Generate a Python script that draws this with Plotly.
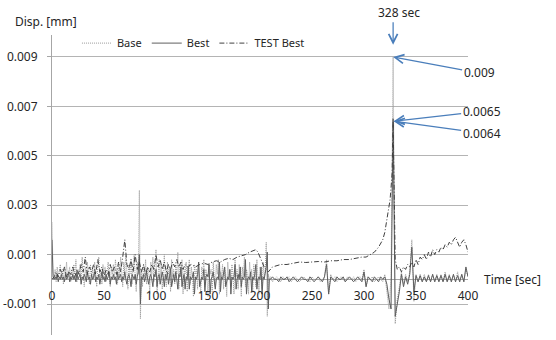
import plotly.graph_objects as go

# ---------------- data (values in mm, time in sec) ----------------
# sampling: 1 s up to 209 s, 2 s afterwards
t_grid = list(range(0, 210)) + list(range(210, 401, 2))

base_disp = [
    0.0023, 0.0003, 0.0001, 0.0004, -0.0001, 0.0005, 0.0001, 0.0003, 0.0006, 0.0000,
    0.0004, -0.0002, 0.0005, 0.0002, 0.0007, 0.0000, 0.0003, 0.0005, -0.0001, 0.0004,
    0.0001, 0.0006, 0.0002, 0.0008, -0.0001, 0.0004, 0.0002, 0.0006, 0.0000, 0.0009,
    0.0002, -0.0003, 0.0005, 0.0001, 0.0007, 0.0003, -0.0002, 0.0006, 0.0001, 0.0004,
    0.0000, 0.0007, 0.0002, -0.0003, 0.0005, 0.0009, 0.0001, 0.0004, -0.0002, 0.0006,
    0.0002, 0.0005, -0.0001, 0.0003, 0.0007, 0.0001, -0.0003, 0.0005, 0.0002, 0.0006,
    0.0000, 0.0008, 0.0003, -0.0002, 0.0006, 0.0001, 0.0009, 0.0002, -0.0003, 0.0007,
    0.0003, 0.0010, 0.0001, -0.0004, 0.0006, 0.0002, 0.0008, -0.0002, 0.0005, 0.0010,
    0.0001, -0.0005, 0.0007, 0.0002, 0.0036, -0.0016, 0.0004, -0.0003, 0.0006, 0.0001,
    0.0008, -0.0002, 0.0005, 0.0003, -0.0006, 0.0007, 0.0002, 0.0009, -0.0001, 0.0006,
    0.0012, -0.0006, 0.0004, 0.0008, 0.0000, 0.0006, -0.0004, 0.0005, 0.0010, 0.0001,
    -0.0003, 0.0007, 0.0002, 0.0005, -0.0005, 0.0008, 0.0001, 0.0004, -0.0002, 0.0006,
    0.0002, 0.0011, -0.0004, 0.0006, 0.0001, 0.0008, -0.0006, 0.0004, 0.0002, 0.0007,
    -0.0005, 0.0003, 0.0008, -0.0002, 0.0005, 0.0001, -0.0007, 0.0006, 0.0002, 0.0004,
    -0.0004, 0.0007, 0.0001, -0.0006, 0.0005, 0.0002, 0.0008, -0.0003, 0.0004, 0.0001,
    -0.0007, 0.0006, 0.0002, 0.0004, -0.0005, 0.0007, 0.0001, -0.0003, 0.0006, 0.0002,
    0.0008, -0.0006, 0.0003, 0.0001, 0.0006, -0.0004, 0.0005, 0.0002, -0.0007, 0.0007,
    0.0001, 0.0004, -0.0003, 0.0006, 0.0002, -0.0006, 0.0008, 0.0001, 0.0004, -0.0004,
    0.0006, 0.0002, -0.0007, 0.0005, 0.0001, 0.0009, -0.0003, 0.0004, 0.0002, -0.0006,
    0.0007, 0.0001, 0.0004, -0.0005, 0.0006, 0.0002, -0.0003, 0.0008, 0.0001, -0.0006,
    0.0005, 0.0002, -0.0004, 0.0007, 0.0001, 0.0003, 0.0015, -0.0015, 0.0002, 0.0000,
    # 2 s sampling from 210 s
    0.0001, -0.0001, 0.0000, 0.0001, 0.0000, -0.0001, 0.0001, 0.0000, 0.0000, 0.0001,
    -0.0001, 0.0000, 0.0001, 0.0000, -0.0001, 0.0000, 0.0001, 0.0000, 0.0000, -0.0001,
    0.0001, 0.0000, 0.0000, 0.0001, -0.0001, 0.0000, 0.0001, 0.0008, -0.0006, 0.0002,
    0.0000, 0.0001, -0.0001, 0.0000, 0.0001, 0.0000, -0.0001, 0.0001, 0.0000, 0.0000,
    0.0001, -0.0001, 0.0000, 0.0001, 0.0000, 0.0004, -0.0003, 0.0001, 0.0000, 0.0001,
    -0.0001, 0.0000, 0.0001, 0.0000, -0.0001, 0.0002, -0.0004, -0.0012, 0.0001, 0.0090,
    -0.0018, -0.0008, -0.0003, 0.0003, -0.0002, 0.0002, -0.0001, 0.0003, 0.0016, -0.0009,
    0.0002, -0.0001, 0.0002, -0.0001, 0.0002, -0.0001, 0.0002, -0.0001, 0.0002, -0.0001,
    0.0002, -0.0001, 0.0002, -0.0001, 0.0003, -0.0001, 0.0002, -0.0001, 0.0002, -0.0001,
    0.0003, -0.0001, 0.0002, -0.0001, 0.0004, 0.0001,
]

best_disp = [
    0.0016, 0.0001, 0.0000, 0.0001, 0.0000, 0.0002, -0.0001, 0.0001, 0.0000, 0.0002,
    0.0000, 0.0001, -0.0001, 0.0002, 0.0000, 0.0001, 0.0003, -0.0001, 0.0001, 0.0000,
    0.0002, 0.0000, 0.0001, -0.0001, 0.0003, 0.0000, 0.0001, 0.0002, -0.0002, 0.0001,
    0.0000, 0.0002, 0.0001, -0.0001, 0.0003, 0.0000, 0.0001, -0.0002, 0.0002, 0.0000,
    0.0001, 0.0003, -0.0001, 0.0001, 0.0000, 0.0002, -0.0002, 0.0001, 0.0003, 0.0000,
    0.0001, -0.0001, 0.0002, 0.0000, 0.0001, 0.0003, -0.0002, 0.0001, 0.0000, 0.0002,
    0.0000, 0.0001, -0.0002, 0.0003, 0.0000, 0.0001, 0.0002, -0.0001, 0.0001, 0.0000,
    0.0003, 0.0000, -0.0002, 0.0001, 0.0002, 0.0000, -0.0003, 0.0002, 0.0001, 0.0000,
    0.0002, -0.0002, 0.0001, 0.0003, 0.0010, -0.0010, 0.0001, 0.0000, 0.0002, -0.0001,
    0.0001, 0.0003, 0.0000, -0.0002, 0.0001, 0.0002, 0.0000, -0.0003, 0.0002, 0.0001,
    0.0004, -0.0003, 0.0001, 0.0002, -0.0002, 0.0000, 0.0003, 0.0001, -0.0003, 0.0002,
    0.0000, 0.0003, -0.0002, 0.0001, 0.0004, -0.0003, 0.0000, 0.0002, -0.0001, 0.0003,
    0.0000, -0.0004, 0.0002, 0.0001, 0.0005, -0.0003, 0.0000, 0.0002, -0.0004, 0.0001,
    0.0000, 0.0005, -0.0004, 0.0001, 0.0000, 0.0001, 0.0003, -0.0006, 0.0001, 0.0000,
    0.0002, 0.0007, -0.0003, 0.0000, 0.0001, 0.0000, 0.0004, -0.0005, 0.0001, 0.0002,
    0.0001, 0.0006, -0.0006, 0.0000, 0.0001, 0.0003, 0.0000, -0.0004, 0.0000, 0.0001,
    0.0000, 0.0007, -0.0005, 0.0001, 0.0000, 0.0002, 0.0005, -0.0003, 0.0000, 0.0001,
    0.0000, 0.0004, -0.0006, 0.0001, 0.0000, 0.0001, 0.0006, -0.0004, 0.0000, 0.0002,
    0.0000, 0.0005, -0.0003, 0.0001, 0.0000, 0.0001, 0.0008, -0.0006, 0.0000, 0.0001,
    0.0000, 0.0003, -0.0005, 0.0001, 0.0000, 0.0002, 0.0006, -0.0004, 0.0000, 0.0001,
    0.0000, 0.0005, -0.0006, 0.0001, 0.0000, 0.0002, 0.0005, 0.0011, -0.0012, 0.0000,
    # 2 s sampling from 210 s
    0.0000, 0.0001, 0.0000, 0.0000, -0.0001, 0.0001, 0.0000, 0.0000, 0.0001, -0.0001,
    0.0000, 0.0001, 0.0000, -0.0001, 0.0000, 0.0001, 0.0000, 0.0000, -0.0001, 0.0001,
    0.0000, -0.0001, 0.0000, 0.0001, 0.0000, -0.0001, 0.0001, 0.0006, -0.0006, 0.0001,
    0.0000, -0.0001, 0.0001, 0.0000, 0.0000, 0.0001, -0.0001, 0.0000, 0.0001, 0.0000,
    -0.0001, 0.0000, 0.0001, 0.0000, -0.0001, 0.0003, -0.0003, 0.0001, 0.0000, -0.0001,
    0.0001, 0.0000, -0.0001, 0.0001, 0.0000, 0.0001, -0.0002, -0.0008, -0.0012, 0.0065,
    -0.0015, -0.0010, -0.0005, 0.0002, -0.0003, 0.0001, -0.0002, 0.0002, 0.0013, -0.0005,
    0.00015, -0.0001, 0.00015, -0.0001, 0.0001, -0.0001, 0.00015, -0.0001, 0.0002, -0.0001,
    0.00015, -0.0001, 0.00015, -0.0001, 0.0002, -0.0001, 0.00015, -0.0001, 0.0002, -0.0001,
    0.00015, -0.0001, 0.0002, -0.0001, 0.0005, 0.0001,
]

test_time = [
    0, 2, 4, 6, 8, 10, 12, 14, 16, 18, 20, 22, 24, 26, 28, 30, 32, 34, 36, 38,
    40, 42, 44, 46, 48, 50, 52, 54, 56, 58, 60, 62, 64, 66, 68, 70, 72, 74, 76, 78,
    80, 82, 84, 86, 88, 90, 92, 94, 96, 98, 100, 102, 104, 106, 108, 110, 112, 114, 116, 118,
    120, 122, 124, 126, 128, 130,
    134, 138, 142, 146, 150, 154, 158, 162, 166, 170, 174, 178, 182, 186, 190, 194, 196, 198,
    200, 202, 204, 206, 208,
    212, 216, 220, 226, 232, 238, 244, 250, 256, 262, 268, 274, 280, 286, 292, 298, 302, 306,
    310, 314, 318, 320, 322, 324, 325, 326, 327, 328, 329, 330, 332, 334, 336, 338, 340,
    342, 344, 346, 348, 350, 352, 354, 356, 358, 360, 362, 364, 366, 368, 370, 372, 374, 376,
    378, 380, 382, 384, 386, 388, 390, 392, 394, 396, 398, 400,
]

test_best_disp = [
    0.0000, 0.0001, 0.0003, 0.0001, 0.0004, 0.0002, 0.0005, 0.0001, 0.0003, 0.0002,
    0.0005, 0.0001, 0.0004, 0.0002, 0.0006, 0.0003, 0.0009, 0.0002, 0.0005, 0.0003,
    0.0006, 0.0002, 0.0008, 0.0003, 0.0005, 0.0001, 0.0004, 0.0002, 0.0006, 0.0003,
    0.0005, 0.0002, 0.0007, 0.0003, 0.0009, 0.0016, 0.0006, 0.0004, 0.0008, 0.0003,
    0.0010, 0.0004, 0.0007, 0.0003, 0.0006, 0.0002, 0.0005, 0.0003, 0.0006, 0.0004,
    0.0010, 0.0005, 0.0008, 0.0004, 0.0007, 0.0003, 0.0006, 0.0004, 0.0007, 0.0005,
    0.0008, 0.0005, 0.0007, 0.0004, 0.0006, 0.0005,
    0.0006, 0.0005, 0.0006, 0.00065, 0.0006, 0.0007, 0.00075, 0.0007, 0.0008, 0.00085,
    0.0008, 0.0009, 0.00095, 0.0010, 0.0011, 0.00115, 0.0012, 0.0011,
    0.0009, 0.0007, 0.0005, 0.0004, 0.0003,
    0.0005, 0.00055, 0.0006, 0.0006, 0.00065, 0.0007, 0.00068, 0.0007, 0.00072, 0.0007,
    0.00075, 0.00075, 0.0008, 0.0008, 0.00085, 0.0009, 0.0009, 0.0010,
    0.0011, 0.0013, 0.0016, 0.0019, 0.0024, 0.0029, 0.0032, 0.0037, 0.0043, 0.0064,
    0.0030, 0.0008, 0.0004, 0.0005, 0.0003, 0.0005, 0.0004,
    0.0006, 0.0005, 0.0007, 0.0005, 0.0008, 0.0006, 0.0009, 0.0008, 0.0010, 0.0008,
    0.0011, 0.0009, 0.0012, 0.0010, 0.0012, 0.0011, 0.0013, 0.0012,
    0.0014, 0.0013, 0.0015, 0.0014, 0.0016, 0.0017, 0.0015, 0.0013, 0.0015, 0.0016,
    0.0014, 0.0011,
]

y_tick_vals = [-0.001, 0.001, 0.003, 0.005, 0.007, 0.009]
y_tick_text = ["-0.001", "0.001", "0.003", "0.005", "0.007", "0.009"]
x_tick_vals = [0, 50, 100, 150, 200, 250, 300, 350, 400]
x_tick_text = ["0", "50", "100", "150", "200", "250", "300", "350", "400"]

# ---------------- figure ----------------
FONT = "Noto Sans"
ARROW = "#4a7ebb"
AXIS = "#a6a6a6"

fig = go.Figure()
fig.add_trace(go.Scatter(x=t_grid, y=base_disp, mode="lines", name="Base",
                         line=dict(color="#9a9a9a", width=1, dash="1px,1px")))
fig.add_trace(go.Scatter(x=t_grid, y=best_disp, mode="lines", name="Best",
                         line=dict(color="#5e5e5e", width=1)))
fig.add_trace(go.Scatter(x=test_time, y=test_best_disp, mode="lines", name="TEST Best",
                         line=dict(color="#404040", width=1, dash="5px,2px,1px,2px")))

y_min, y_max = -0.002255, 0.00989
x_axis_pos = (0 - y_min) / (y_max - y_min)

fig.update_layout(
    width=556, height=340,
    margin=dict(l=52, r=88, t=35, b=5),
    paper_bgcolor="white", plot_bgcolor="white",
    font=dict(family=FONT, size=12, color="#262626"),
    showlegend=True,
    legend=dict(orientation="h", x=0.06, y=0.973, xanchor="left", yanchor="middle",
                font=dict(size=11), bgcolor="rgba(0,0,0,0)"),
    xaxis=dict(range=[0, 400], showgrid=False, zeroline=False, showline=False,
               anchor="free", position=x_axis_pos, automargin=False,
               tickmode="array", tickvals=x_tick_vals, ticktext=x_tick_text,
               ticks="", ticklabelstandoff=8, tickfont=dict(size=12)),
    yaxis=dict(range=[y_min, y_max], showgrid=True, gridcolor="#b4b4b4", gridwidth=1,
               zeroline=True, zerolinecolor=AXIS, zerolinewidth=1, automargin=False,
               showline=True, linecolor=AXIS, linewidth=1,
               tickmode="array", tickvals=y_tick_vals, ticktext=y_tick_text,
               ticks="outside", ticklen=4, tickcolor=AXIS, ticklabelstandoff=7,
               tickfont=dict(size=12)),
)

# axis titles
fig.add_annotation(text="Disp. [mm]", xref="paper", yref="paper",
                   x=(13 - 52) / 416, y=(335 - 21) / 300,
                   xanchor="left", yanchor="middle", showarrow=False, font=dict(size=12))
fig.add_annotation(text="Time [sec]", xref="paper", yref="y",
                   x=(482 - 52) / 416, y=0, xanchor="left", yanchor="middle",
                   showarrow=False, font=dict(size=12))

# callouts
fig.add_annotation(text="328 sec", xref="x", yref="paper", x=333.5, y=(335 - 12) / 300,
                   xanchor="center", yanchor="middle", showarrow=False, font=dict(size=12))
fig.add_annotation(text="", xref="x", yref="y", x=328, y=0.0095, ax=0, ay=-24,
                   showarrow=True, arrowhead=5, arrowsize=1.4, arrowwidth=1.25,
                   arrowcolor=ARROW)
fig.add_annotation(text="0.009", xref="x", yref="y", x=328, y=0.009, ax=86, ay=16,
                   showarrow=True, arrowhead=5, arrowsize=1.4, arrowwidth=1.25,
                   arrowcolor=ARROW, font=dict(size=12))
fig.add_annotation(text="0.0065", xref="x", yref="y", x=328.5, y=0.0064, ax=88, ay=-10,
                   showarrow=True, arrowhead=5, arrowsize=1.4, arrowwidth=1.25,
                   arrowcolor=ARROW, font=dict(size=12))
fig.add_annotation(text="0.0064", xref="x", yref="y", x=328.5, y=0.0064, ax=88, ay=12,
                   showarrow=True, arrowhead=5, arrowsize=1.4, arrowwidth=1.25,
                   arrowcolor=ARROW, font=dict(size=12))

# remove the page's default 8px body margin so the figure sits at the window origin
fig.write_html("out.html", config={"displayModeBar": False},
               post_script="document.body.style.margin='0';")
